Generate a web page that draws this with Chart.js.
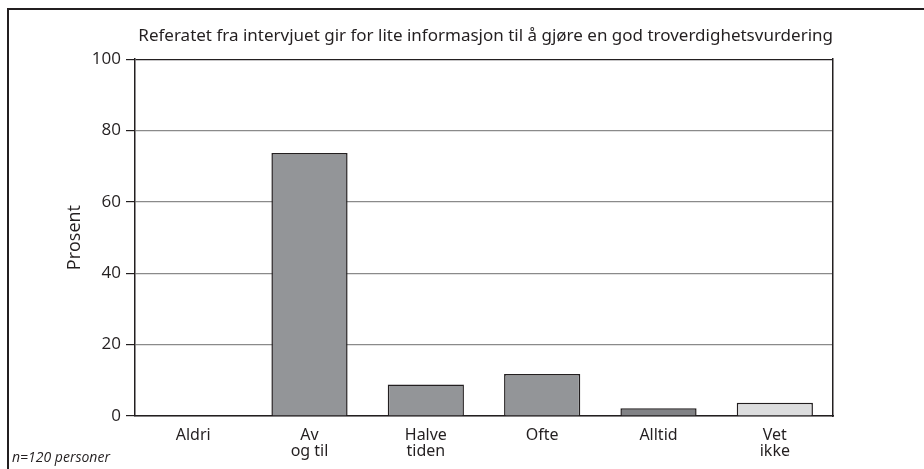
<!DOCTYPE html>
<html>
<head>
<meta charset="utf-8">
<script src="https://cdn.jsdelivr.net/npm/chart.js@4.4.1/dist/chart.umd.min.js"></script>
<style>
	html, body { margin: 0; padding: 0; background: #fff; }
	#wrap { width: 924px; height: 469px; }
</style>
</head>
<body>
<div id="wrap"><canvas id="myChart" width="924" height="469"></canvas></div>
<script>
// svarkategorier og andel (prosent)
let kategorier = [["Aldri"], ["Av", "og til"], ["Halve", "tiden"], ["Ofte"], ["Alltid"], ["Vet", "ikke"]];
let prosent = [0, 73.7, 8.8, 11.8, 2.2, 3.7];
let yTicks = [0, 20, 40, 60, 80, 100];
let tittel = "Referatet fra intervjuet gir for lite informasjon til å gjøre en god troverdighetsvurdering";
let fotnote = "n=120 personer";

const tekstFont = "'Noto Sans', 'Open Sans', sans-serif";
const tallFont = "'Open Sans', 'Noto Sans', sans-serif";

// ramme rundt hele figuren + fotnote
const rammePlugin = {
	id: "ramme",
	beforeDraw(chart) {
		const ctx = chart.ctx;
		ctx.save();
		ctx.fillStyle = "#fff";
		ctx.fillRect(0, 0, chart.width, chart.height);
		ctx.strokeStyle = "#231f20";
		ctx.lineWidth = 2;
		ctx.strokeRect(8, 9, 1000, 1000);
		ctx.restore();
	},
	afterDraw(chart) {
		const ctx = chart.ctx;
		ctx.save();
		ctx.fillStyle = "#231f20";
		ctx.font = "italic 14px " + tallFont;
		ctx.textBaseline = "alphabetic";
		ctx.fillText(fotnote, 12, 462);
		ctx.restore();
	}
};

function createChart() {
	const ctx = document.getElementById("myChart").getContext("2d");
	const myChart = new Chart(ctx, {
		type: "bar",
		data: {
			labels: kategorier,
			datasets: [
				{
					label: "Prosent",
					data: prosent,
					backgroundColor: ["#939598", "#939598", "#939598", "#939598", "#818285", "#dcddde"],
					borderColor: "#231f20",
					borderWidth: 1.5,
					borderSkipped: "bottom",
					categoryPercentage: 1,
					barPercentage: 0.655,
				},
			],
		},
		options: {
			responsive: false,
			animation: false,
			layout: {
				padding: { left: 0, right: 91, top: 16, bottom: 0 },
			},
			plugins: {
				legend: { display: false },
				tooltip: { enabled: false },
				title: {
					display: true,
					text: tittel,
					color: "#231f20",
					align: "end",
					padding: { top: 10, bottom: 12.8 },
					font: { size: 17, family: tekstFont, weight: "normal" },
				},
			},
			scales: {
				x: {
					grid: { display: false },
					border: { color: "#231f20", width: 1.5 },
					ticks: {
						color: "#231f20",
						padding: 3,
						maxRotation: 0,
						font: { size: 16, family: tekstFont, lineHeight: 1.0 },
					},
					afterFit(scale) {
						scale.height = 53;
					},
				},
				y: {
					min: 0,
					max: 100,
					afterBuildTicks(scale) {
						scale.ticks = yTicks.map(v => ({ value: v }));
					},
					grid: {
						color: ctx => (ctx.tick && ctx.tick.value === 100 ? "#231f20" : "#8a8a8a"),
						lineWidth: 1.2,
						tickColor: "#231f20",
						tickLength: 9,
					},
					border: { color: "#231f20", width: 1.5 },
					ticks: {
						color: "#231f20",
						padding: 5,
						font: { size: 17, family: tallFont },
					},
					title: {
						display: true,
						text: "Prosent",
						color: "#231f20",
						padding: { top: 64, bottom: 0 },
						font: { size: 18, family: tallFont },
					},
					afterFit(scale) {
						scale.width = 135;
					},
				},
				y2: {
					position: "right",
					min: 0,
					max: 100,
					grid: { display: false },
					ticks: { display: false },
					border: { color: "#231f20", width: 1.5 },
					afterFit(scale) {
						scale.width = 0;
					},
				},
			},
		},
		plugins: [rammePlugin],
	});
}

createChart();
</script>
</body>
</html>
